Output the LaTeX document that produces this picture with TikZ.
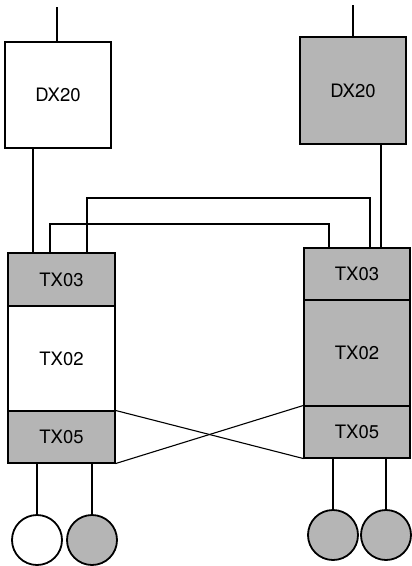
\documentclass[tikz,border=0pt]{standalone}
\usepackage{fontspec}
\setmainfont{TeX Gyre Heros}
\usepackage{tikz}
\usetikzlibrary{calc}

\begin{document}
\begin{tikzpicture}[x=1pt, y=-1pt, line width=1.1pt,
    box/.style={draw, rectangle, inner sep=0pt, font=\fontsize{18.5}{20}\selectfont},
    shaded/.style={fill=gray!58},
    port/.style={draw, circle, line width=1.8pt, minimum size=50pt, inner sep=0pt}]
    \useasboundingbox (0,0) rectangle (412,566);

    % Vermittlungen
    \node[box, minimum width=106pt, minimum height=106pt] (dxl) at (58,95) {DX20};
    \node[box, shaded, minimum width=106pt, minimum height=107pt] (dxr) at (353,90.5) {DX20};

    % linker Stapel
    \node[box, shaded, minimum width=107pt, minimum height=53pt] (txlc) at (61.5,279.5) {TX03};
    \node[box, minimum width=107pt, minimum height=105pt] (txlb) at (61.5,358.5) {TX02};
    \node[box, shaded, minimum width=107pt, minimum height=52pt] (txla) at (61.5,437) {TX05};

    % rechter Stapel
    \node[box, shaded, minimum width=106pt, minimum height=52pt] (txrc) at (357,274) {TX03};
    \node[box, shaded, minimum width=106pt, minimum height=106pt] (txrb) at (357,353) {TX02};
    \node[box, shaded, minimum width=106pt, minimum height=52pt] (txra) at (357,432) {TX05};

    % Zuleitungen oben
    \coordinate (inl) at (57,7);
    \coordinate (inr) at (353,5);
    \draw (inl) -- (dxl.north -| inl);
    \draw (inr) -- (dxr.north -| inr);

    \draw (dxl.south -| 33,0) -- (txlc.north -| 33,0);
    \draw (dxr.south -| 381,0) -- (txrc.north -| 381,0);

    % Querverbindungen TX03
    \draw (txlc.north -| 87,0) -- (87,198) -- (370,198) -- (txrc.north -| 370,0);
    \draw (txlc.north -| 50,0) -- (50,224) -- (329,224) -- (txrc.north -| 329,0);

    % Kreuzung TX05
    \draw (txla.north east) -- (txra.south west);
    \draw (txla.south east) -- (txra.north west);

    % Anschluesse
    \foreach \n/\x/\y/\f in {pl1/37/540/white, pl2/92/540/gray!58, pr1/333/535/gray!58, pr2/386/535/gray!58} {
        \node[port, fill=\f] (\n) at (\x,\y) {};
    }
    \draw (txla.south -| pl1) -- (pl1.north);
    \draw (txla.south -| pl2) -- (pl2.north);
    \draw (txra.south -| pr1) -- (pr1.north);
    \draw (txra.south -| pr2) -- (pr2.north);
\end{tikzpicture}
\end{document}
